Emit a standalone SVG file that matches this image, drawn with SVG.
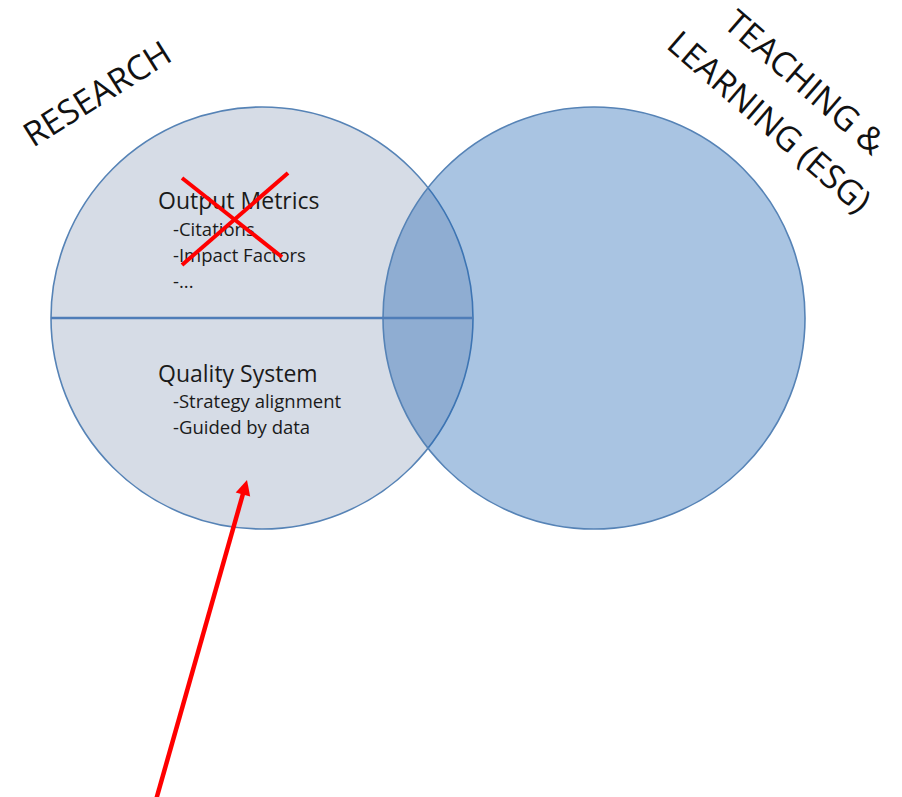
<svg xmlns="http://www.w3.org/2000/svg" width="902" height="797" viewBox="0 0 902 797">
  <defs>
    <style>
      .circ { stroke: #5683b6; stroke-width: 1.6; }
      .title { font-family: "Open Sans", "Liberation Sans", sans-serif; font-size: 34px; fill: #111; }
      .head { font-family: "Open Sans", "Liberation Sans", sans-serif; font-size: 23px; fill: #1a1a1a; }
      .item { font-family: "Open Sans", "Liberation Sans", sans-serif; font-size: 18.5px; fill: #1a1a1a; }
      .cross { stroke: #ff0000; stroke-width: 4; stroke-linecap: butt; }
    </style>
  </defs>
  <rect width="902" height="797" fill="#ffffff"/>

  <g id="research-circle">
    <circle class="circ" cx="262" cy="318" r="211" fill="#d6dce6"/>
  </g>
  <g id="teaching-circle">
    <circle class="circ" cx="594" cy="318" r="211" fill="#105bae" fill-opacity="0.36"/>
  </g>
  <g id="divider">
    <line x1="51" y1="318" x2="473" y2="318" stroke="#4f7db8" stroke-width="2.5"/>
  </g>

  <g id="research-label">
    <text class="title" transform="translate(33,148) rotate(-32)">RESEARCH</text>
  </g>
  <g id="teaching-label">
    <text class="title" transform="translate(722,26) rotate(41)">TEACHING &amp;</text>
    <text class="title" transform="translate(665,47) rotate(41)">LEARNING (ESG)</text>
  </g>

  <g id="output-metrics">
    <text class="head" x="158" y="209">Output Metrics</text>
    <text class="item" x="173" y="236">-Citations</text>
    <text class="item" x="173" y="262">-Impact Factors</text>
    <text class="item" x="173" y="288">-...</text>
    <line class="cross" x1="182" y1="178" x2="282" y2="257"/>
    <line class="cross" x1="288" y1="173" x2="182" y2="265"/>
  </g>

  <g id="quality-system">
    <text class="head" x="158" y="382">Quality System</text>
    <text class="item" x="173" y="408">-Strategy alignment</text>
    <text class="item" x="173" y="434">-Guided by data</text>
  </g>

  <g id="connectors">
    <line x1="156" y1="800" x2="243.5" y2="492" stroke="#ff0000" stroke-width="4.5"/>
    <polygon points="247,480 250.2,496.5 235.7,492.4" fill="#ff0000"/>
  </g>
</svg>
